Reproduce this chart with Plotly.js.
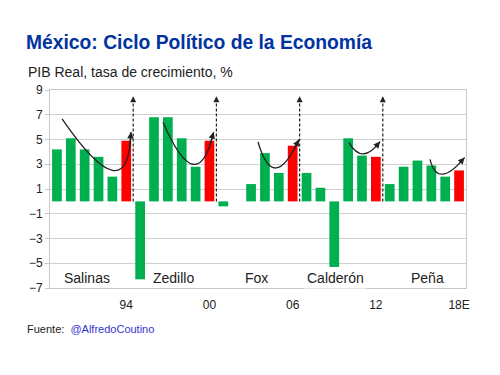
<!DOCTYPE html>
<html>
<head>
<meta charset="utf-8">
<script src="https://cdn.plot.ly/plotly-3.0.1.min.js"></script>
<style>html,body{margin:0;padding:0;background:#fff;}#chart{width:500px;height:375px;}</style>
</head>
<body>
<div id="chart"></div>
<script>
// ---- Data ----
const years = [1989,1990,1991,1992,1993,1994,1995,1996,1997,1998,1999,2000,2001,2002,2003,2004,2005,2006,2007,2008,2009,2010,2011,2012,2013,2014,2015,2016,2017,2018];
const growth = [4.2,5.1,4.2,3.6,2.0,4.9,-6.3,6.8,6.8,5.1,2.8,4.9,-0.4,0.0,1.4,3.9,2.3,4.5,2.3,1.1,-5.3,5.1,3.7,3.6,1.4,2.8,3.3,2.9,2.0,2.5];
const electionYears = [1994,2000,2006,2012,2018];
const tickVals = [1994,2000,2006,2012,2018];
const tickText = ['94','00','06','12','18E'];
const presidents = ['Salinas','Zedillo','Fox','Calderón','Peña'];
const presidentCenters = [1991.2, 1997.4, 2003.4, 2009.1, 2015.7];
const termBreaks = [1994.5, 2000.5, 2006.5, 2012.5];
// cycle curves: [x0,y0, xBottom,yBottom, x1,y1]
const cycles = [
  [1989.37,6.66, 1993.0,2.5, 1994.34,5.6],
  [1996.65,6.4, 1998.8,3.0, 2000.3,5.6],
  [2003.5,4.8, 2004.8,2.7, 2006.45,5.0],
  [2010.06,4.75, 2011.1,3.84, 2012.3,4.83],
  [2015.9,3.4, 2016.8,2.2, 2018.4,3.54]
];

const GREEN = '#00b050', RED = '#ff0000';
const colors = years.map(y => electionYears.includes(y) ? RED : GREEN);
const FONT = 'Liberation Sans, Arial, sans-serif';

const shapes = [];
const annotations = [];

termBreaks.forEach(xb => {
  shapes.push({type:'line', xref:'x', yref:'y', x0:xb, x1:xb, y0:0, y1:8.1,
    line:{color:'#222', width:1.2, dash:'3px,2px'}, layer:'above'});
  annotations.push({x:xb, y:8.5, xref:'x', yref:'y', axref:'x', ayref:'y', ax:xb, ay:8.1,
    showarrow:true, arrowhead:2, arrowsize:1, arrowwidth:1.2, arrowcolor:'#222', text:'', standoff:0});
});

cycles.forEach(c => {
  const [x0,y0,xb,yb,x1,y1] = c;
  const cx = 2*xb - (x0+x1)/2, cy = 2*yb - (y0+y1)/2;
  shapes.push({type:'path', xref:'x', yref:'y',
    path:`M ${x0} ${y0} Q ${cx} ${cy} ${x1} ${y1}`,
    line:{color:'#222', width:1.3}, layer:'above'});
  const t = 0.88;
  const tx = (1-t)*(1-t)*x0 + 2*(1-t)*t*cx + t*t*x1;
  const ty = (1-t)*(1-t)*y0 + 2*(1-t)*t*cy + t*t*y1;
  annotations.push({x:x1, y:y1, xref:'x', yref:'y', axref:'x', ayref:'y', ax:tx, ay:ty,
    showarrow:true, arrowhead:2, arrowsize:1, arrowwidth:1.3, arrowcolor:'#222', text:'', standoff:0});
});

presidents.forEach((p,i) => {
  annotations.push({x:presidentCenters[i], y:-6.2, xref:'x', yref:'y', text:p, showarrow:false,
    font:{family:FONT, size:14, color:'#222'},
    bgcolor: p==='Calderón' ? '#ffffff' : 'rgba(0,0,0,0)', borderpad:2});
});

// plot area spans y=90..288 px, x=50..466 px
annotations.push({xref:'paper', yref:'paper', x:(26-50)/416, y:(288-72)/198, xanchor:'left', yanchor:'middle',
  showarrow:false, text:'PIB Real, tasa de crecimiento, %',
  font:{family:FONT, size:14, color:'#222'}});

annotations.push({xref:'paper', yref:'paper', x:(25-50)/416, y:(288-329)/198, xanchor:'left', yanchor:'middle',
  showarrow:false, text:'Fuente:  <span style="color:#3333cc">@AlfredoCoutino</span>',
  font:{family:FONT, size:11, color:'#222'}});

const trace = {
  type:'bar', x:years, y:growth,
  marker:{color:colors, line:{width:0}},
  hoverinfo:'x+y'
};

const layout = {
  width:500, height:375,
  margin:{l:50, r:34, t:90, b:87},
  paper_bgcolor:'#fff', plot_bgcolor:'#fff',
  showlegend:false,
  bargap:0.3,
  title:{text:'México: Ciclo Político de la Economía', x:26/500, xanchor:'left', xref:'container',
    y:1-42/375, yanchor:'middle', yref:'container',
    font:{family:FONT, size:19.3, color:'#0033a0', weight:'bold'}},
  xaxis:{range:[1988.5,2018.5], tickvals:tickVals, ticktext:tickText, showgrid:false, zeroline:false,
    showline:true, mirror:true, linecolor:'#c8c8c8', linewidth:1, ticks:'',
    tickfont:{family:FONT, size:12, color:'#222'}, ticklabelstandoff:6},
  yaxis:{range:[-7,9], tickvals:[-7,-5,-3,-1,1,3,5,7,9], showgrid:true, gridcolor:'#d0d0d0', gridwidth:1,
    zeroline:false, showline:true, mirror:true, linecolor:'#c8c8c8', linewidth:1,
    ticks:'outside', ticklen:4, tickcolor:'#c8c8c8',
    tickfont:{family:FONT, size:12, color:'#222'}},
  shapes:shapes,
  annotations:annotations
};

Plotly.newPlot('chart',[trace],layout,{displayModeBar:false, staticPlot:true});
</script>
</body>
</html>
